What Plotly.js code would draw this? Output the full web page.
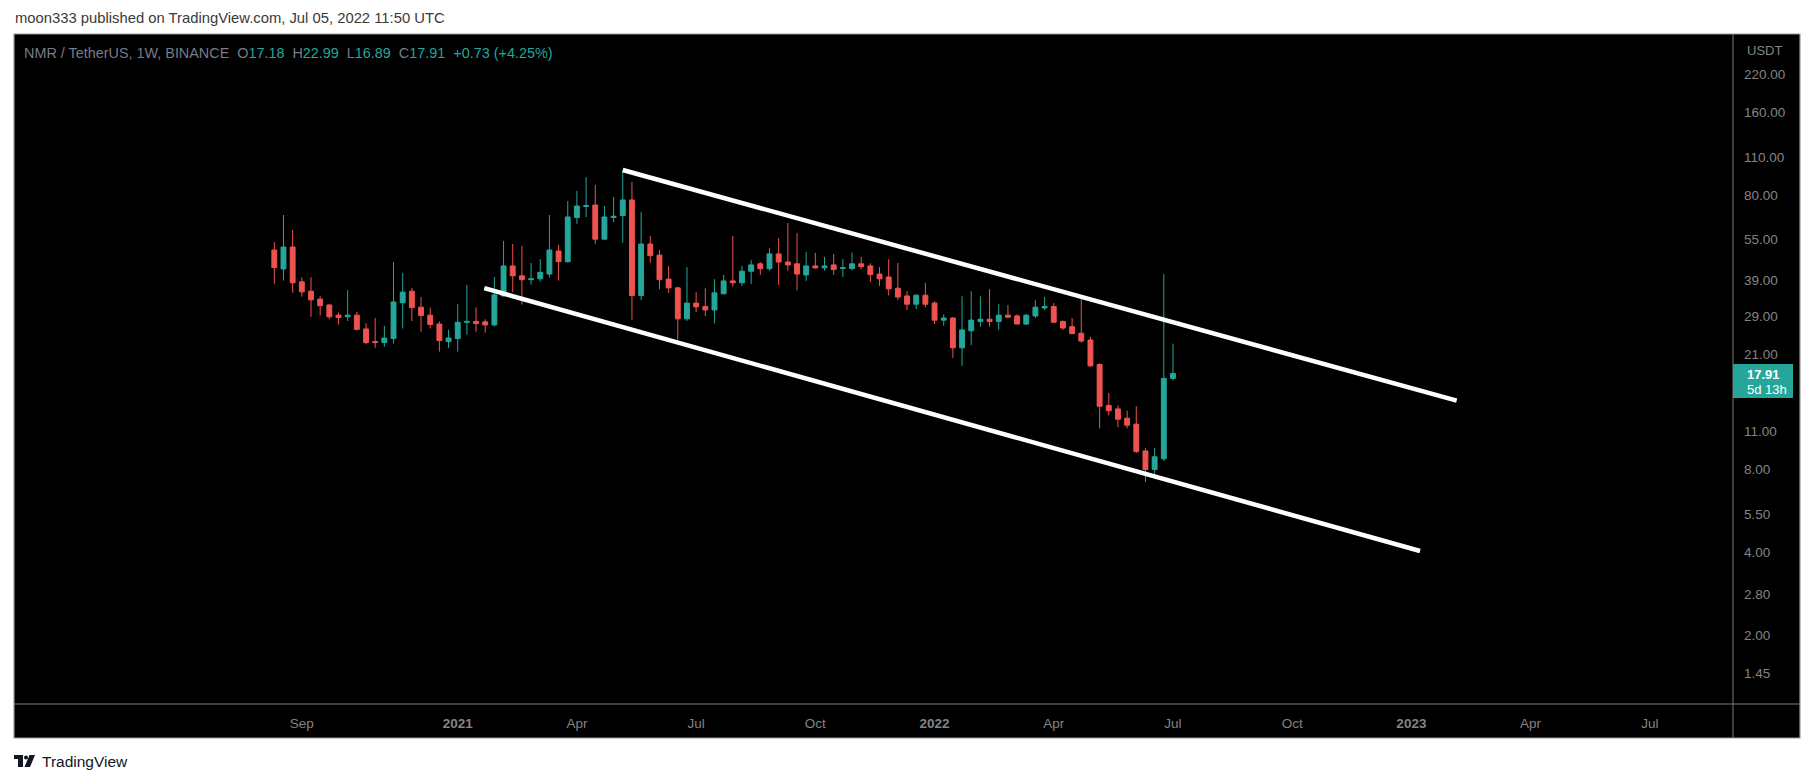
<!DOCTYPE html>
<html>
<head>
<meta charset="utf-8">
<script src="https://cdn.plot.ly/plotly-3.0.1.min.js"></script>
<style>
html,body{margin:0;padding:0;background:#ffffff;}
#chart{width:1813px;height:783px;}
</style>
</head>
<body>
<div id="chart"></div>
<script>
// ---- data (weekly NMR/USDT, Binance) ----
const dates = [
"2020-08-17","2020-08-24","2020-08-31","2020-09-07","2020-09-14","2020-09-21","2020-09-28","2020-10-05","2020-10-12","2020-10-19",
"2020-10-26","2020-11-02","2020-11-09","2020-11-16","2020-11-23","2020-11-30","2020-12-07","2020-12-14","2020-12-21","2020-12-28",
"2021-01-04","2021-01-11","2021-01-18","2021-01-25","2021-02-01","2021-02-08","2021-02-15","2021-02-22","2021-03-01","2021-03-08",
"2021-03-15","2021-03-22","2021-03-29","2021-04-05","2021-04-12","2021-04-19","2021-04-26","2021-05-03","2021-05-10","2021-05-17",
"2021-05-24","2021-05-31","2021-06-07","2021-06-14","2021-06-21","2021-06-28","2021-07-05","2021-07-12","2021-07-19","2021-07-26",
"2021-08-02","2021-08-09","2021-08-16","2021-08-23","2021-08-30","2021-09-06","2021-09-13","2021-09-20","2021-09-27","2021-10-04",
"2021-10-11","2021-10-18","2021-10-25","2021-11-01","2021-11-08","2021-11-15","2021-11-22","2021-11-29","2021-12-06","2021-12-13",
"2021-12-20","2021-12-27","2022-01-03","2022-01-10","2022-01-17","2022-01-24","2022-01-31","2022-02-07","2022-02-14","2022-02-21",
"2022-02-28","2022-03-07","2022-03-14","2022-03-21","2022-03-28","2022-04-04","2022-04-11","2022-04-18","2022-04-25","2022-05-02",
"2022-05-09","2022-05-16","2022-05-23","2022-05-30","2022-06-06","2022-06-13","2022-06-20","2022-06-27","2022-07-04"
];
const openP = [
50.4,43.0,51.7,38.6,35.7,33.4,31.8,29.2,28.8,29.2,
26.0,23.4,23.2,24.0,32.4,35.7,31.2,29.2,27.1,23.4,
24.0,27.5,27.7,27.6,26.9,34.3,44.1,40.6,39.3,39.6,
41.2,50.0,45.7,66.2,72.6,73.5,55.2,66.2,67.3,76.7,
34.4,53.0,48.3,39.5,36.7,28.3,32.3,31.4,30.5,34.9,
38.9,38.3,42.2,44.9,43.1,48.8,45.6,44.9,40.9,44.1,
43.4,44.5,43.2,43.2,44.9,44.1,41.2,40.2,36.6,34.3,
32.0,34.5,32.3,28.0,28.5,22.2,25.6,27.7,28.2,27.7,
29.2,29.0,27.1,29.0,31.0,31.4,27.7,26.5,25.1,23.7,
19.3,13.7,13.3,12.3,11.7,9.35,8.0,8.75,17.18
];
const highP = [
53.9,67.6,59.6,40.1,40.1,34.2,32.0,29.8,36.0,30.0,
27.3,28.5,26.7,45.6,41.6,36.6,34.0,31.1,27.7,25.8,
32.0,37.6,31.2,28.2,40.2,54.4,53.0,52.1,45.2,46.7,
67.6,52.6,76.0,82.7,92.9,87.0,72.9,78.6,97.8,89.2,
69.4,56.7,50.4,44.1,37.1,43.7,35.4,36.6,39.5,40.9,
56.7,44.1,46.3,45.6,51.2,55.8,63.2,58.1,49.6,49.2,
47.6,48.8,46.7,49.4,47.6,45.1,43.7,46.7,45.2,35.7,
34.8,38.3,32.8,29.4,28.7,34.2,35.7,34.2,36.3,32.0,
31.8,29.4,29.4,33.1,34.0,32.3,27.9,28.5,34.0,24.3,
19.5,15.2,13.7,13.1,13.6,9.6,9.6,41.2,22.99
];
const lowP = [
38.0,39.0,35.2,34.1,28.8,29.1,28.2,27.0,27.8,25.7,
22.9,22.2,22.4,23.0,26.1,27.8,25.4,26.1,21.5,22.2,
21.5,24.8,25.4,25.2,26.5,34.1,35.4,31.9,37.7,38.7,
40.0,39.0,45.3,62.8,66.5,53.1,55.0,63.6,53.6,28.1,
33.1,45.3,36.3,35.2,23.8,27.8,30.0,29.0,27.2,34.8,
37.1,37.3,37.9,40.9,42.4,37.6,42.4,36.0,38.9,43.1,
42.4,40.9,40.2,42.5,42.9,38.6,37.3,34.4,33.1,30.5,
30.7,31.2,27.1,26.7,20.4,19.1,22.7,26.5,26.5,25.8,
28.5,27.0,26.9,28.5,30.5,27.4,25.8,24.9,23.2,18.9,
11.3,12.6,11.4,11.3,9.2,7.2,7.7,8.6,16.89
];
const closeP = [
43.5,51.7,38.3,35.5,33.2,31.6,28.8,28.6,29.2,25.9,
23.2,23.2,24.1,32.6,35.4,31.1,29.1,27.0,23.6,24.1,
27.5,27.7,27.2,26.9,34.6,44.1,40.6,39.3,39.6,41.8,
50.4,45.7,66.5,72.9,73.2,55.2,66.5,66.9,76.7,34.4,
53.0,48.1,39.3,36.7,28.3,32.3,31.3,30.5,35.2,38.9,
38.3,42.2,44.5,43.1,48.8,45.6,44.5,41.2,44.1,43.4,
44.1,42.8,43.4,44.9,43.9,41.0,39.6,36.4,34.0,32.0,
34.5,32.0,28.0,28.5,22.2,25.8,28.0,28.2,27.7,29.2,
28.7,27.1,29.2,31.2,31.4,27.5,26.2,25.0,23.5,19.1,
13.6,13.1,12.2,11.6,9.3,8.0,8.9,17.18,17.91
];

// drawn channel (trend lines): [date, price] endpoints
const upperLineX = ["2021-05-10", "2023-02-05 14:00"];
const upperLineY = [98.6, 14.25];
const lowerLineX = ["2021-01-24 07:00", "2023-01-08 15:00"];
const lowerLineY = [36.6, 4.04];

// axis ticks
const xTickVals = ["2020-09-07","2021-01-04","2021-04-05","2021-07-05","2021-10-04","2022-01-03","2022-04-04","2022-07-04","2022-10-03","2023-01-02","2023-04-03","2023-07-03"];
const xTickText = ["Sep","<b>2021</b>","Apr","Jul","Oct","<b>2022</b>","Apr","Jul","Oct","<b>2023</b>","Apr","Jul"];
const yTickVals = [1.45,2,2.8,4,5.5,8,11,21,29,39,55,80,110,160,220];
const yTickText = ["1.45","2.00","2.80","4.00","5.50","8.00","11.00","21.00","29.00","39.00","55.00","80.00","110.00","160.00","220.00"];

const lastPrice = "17.91";
const countdown = "5d 13h";

// ---- layout helpers (pixel -> paper) ----
const L = 14, R = 1733, T = 34, B = 704;
const W = R - L, H = B - T;
const px = x => (x - L) / W;
const py = y => (B - y) / H;

const GREEN = '#26a69a', RED = '#ef5350';
const GRAY = '#848484';
const FONT = 'Liberation Sans, Arial, sans-serif';

const traces = [
  {
    type: 'candlestick',
    x: dates, open: openP, high: highP, low: lowP, close: closeP,
    increasing: {line: {color: GREEN, width: 1}, fillcolor: GREEN},
    decreasing: {line: {color: RED, width: 1}, fillcolor: RED},
    whiskerwidth: 0,
    hoverinfo: 'skip',
    showlegend: false
  },
  {
    type: 'scatter', mode: 'lines', x: upperLineX, y: upperLineY,
    line: {color: '#ffffff', width: 4.5}, hoverinfo: 'skip', showlegend: false
  },
  {
    type: 'scatter', mode: 'lines', x: lowerLineX, y: lowerLineY,
    line: {color: '#ffffff', width: 4.5}, hoverinfo: 'skip', showlegend: false
  }
];

const sp = '\u00a0';
const headerText =
  `<span style="color:#787b86">NMR / TetherUS, 1W, BINANCE${sp}${sp}O</span><span style="color:${GREEN}">${openP[openP.length-1]}</span>` +
  `<span style="color:#787b86">${sp}${sp}H</span><span style="color:${GREEN}">${highP[highP.length-1]}</span>` +
  `<span style="color:#787b86">${sp}${sp}L</span><span style="color:${GREEN}">${lowP[lowP.length-1]}</span>` +
  `<span style="color:#787b86">${sp}${sp}C</span><span style="color:${GREEN}">${closeP[closeP.length-1]}</span>` +
  `<span style="color:${GREEN}">${sp}${sp}+0.73 (+4.25%)</span>`;

const layout = {
  width: 1813, height: 783,
  margin: {l: L, r: 1813 - R, t: T, b: 783 - B, pad: 0},
  paper_bgcolor: '#ffffff',
  plot_bgcolor: '#000000',
  boxgap: 0.24,
  showlegend: false,
  xaxis: {
    type: 'date',
    range: ['2020-01-31 07:00', '2023-09-04 12:00'],
    rangeslider: {visible: false},
    showgrid: false, zeroline: false, showline: false,
    tickmode: 'array', tickvals: xTickVals, ticktext: xTickText,
    ticks: '', ticklabelstandoff: 9,
    tickfont: {family: FONT, size: 13.5, color: GRAY},
    fixedrange: true
  },
  yaxis: {
    type: 'log',
    side: 'right',
    range: [0.04925, 2.48916],
    showgrid: false, zeroline: false, showline: false,
    tickmode: 'array', tickvals: yTickVals, ticktext: yTickText,
    ticks: '', ticklabelstandoff: 10,
    tickfont: {family: FONT, size: 13.5, color: GRAY},
    fixedrange: true
  },
  shapes: [
    // black chart frame incl. price & time scales
    {type: 'rect', xref: 'paper', yref: 'paper', x0: px(14), x1: px(1800), y0: py(738), y1: py(34),
     fillcolor: '#000000', line: {color: '#9a9a9a', width: 1.2}, layer: 'below'},
    // price scale divider
    {type: 'line', xref: 'paper', yref: 'paper', x0: px(1733), x1: px(1733), y0: py(738), y1: py(34),
     line: {color: '#7a7a7a', width: 1}},
    // time scale divider
    {type: 'line', xref: 'paper', yref: 'paper', x0: px(14), x1: px(1800), y0: py(704), y1: py(704),
     line: {color: '#7a7a7a', width: 1}},
    // last price label box
    {type: 'rect', xref: 'paper', yref: 'paper', x0: px(1733), x1: px(1793), y0: py(398), y1: py(364),
     fillcolor: GREEN, line: {width: 0}},
    // TradingView logo
    {type: 'rect', xref: 'paper', yref: 'paper', x0: px(14), x1: px(23), y0: py(759), y1: py(755),
     fillcolor: '#131722', line: {width: 0}},
    {type: 'rect', xref: 'paper', yref: 'paper', x0: px(18), x1: px(23), y0: py(767), y1: py(755),
     fillcolor: '#131722', line: {width: 0}},
    {type: 'circle', xref: 'paper', yref: 'paper', x0: px(24), x1: px(28), y0: py(759.5), y1: py(755.5),
     fillcolor: '#131722', line: {width: 0}},
    {type: 'path', xref: 'paper', yref: 'paper',
     path: `M ${px(29.5)} ${py(755)} L ${px(35)} ${py(755)} L ${px(30)} ${py(767)} L ${px(24.5)} ${py(767)} Z`,
     fillcolor: '#131722', line: {width: 0}}
  ],
  annotations: [
    {xref: 'paper', yref: 'paper', x: px(13), y: py(18.5), xanchor: 'left', yanchor: 'middle', showarrow: false,
     text: 'moon333 published on TradingView.com, Jul 05, 2022 11:50 UTC',
     font: {family: FONT, size: 14.8, color: '#3a3a3a'}},
    {xref: 'paper', yref: 'paper', x: px(22), y: py(53), xanchor: 'left', yanchor: 'middle', showarrow: false,
     text: headerText, font: {family: FONT, size: 14.4, color: '#787b86'}},
    {xref: 'paper', yref: 'paper', x: px(1745), y: py(51), xanchor: 'left', yanchor: 'middle', showarrow: false,
     text: 'USDT', font: {family: FONT, size: 13, color: GRAY}},
    {xref: 'paper', yref: 'paper', x: px(1745), y: py(374), xanchor: 'left', yanchor: 'middle', showarrow: false,
     text: '<b>' + lastPrice + '</b>', font: {family: FONT, size: 13, color: '#ffffff'}},
    {xref: 'paper', yref: 'paper', x: px(1745), y: py(389), xanchor: 'left', yanchor: 'middle', showarrow: false,
     text: countdown, font: {family: FONT, size: 13, color: '#ffffff'}},
    {xref: 'paper', yref: 'paper', x: px(40), y: py(761), xanchor: 'left', yanchor: 'middle', showarrow: false,
     text: 'TradingView', font: {family: FONT, size: 15.5, color: '#131722'}}
  ]
};

Plotly.newPlot('chart', traces, layout, {staticPlot: true, displayModeBar: false});
</script>
</body>
</html>
